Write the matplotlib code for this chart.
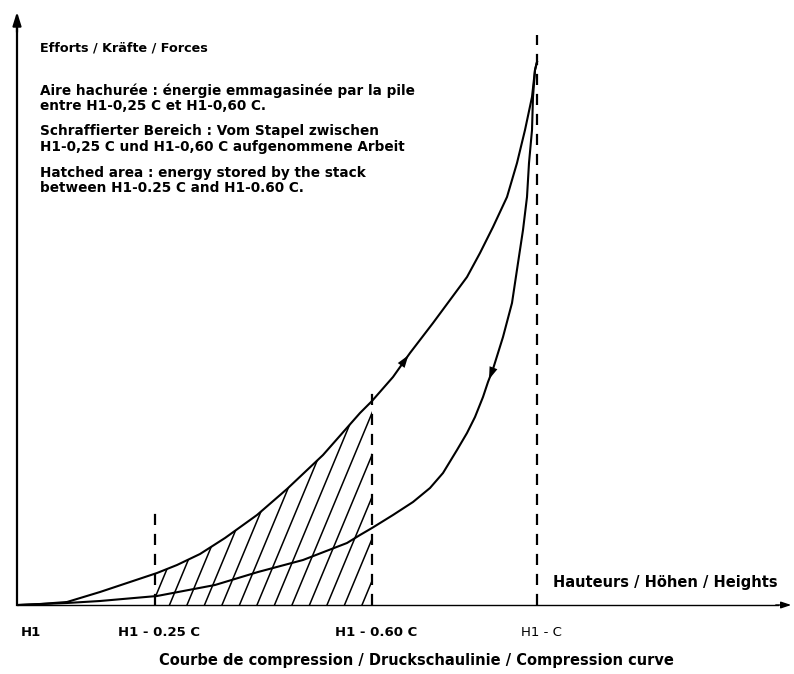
import numpy as np
import matplotlib
matplotlib.use("Agg")
import matplotlib.pyplot as plt
from matplotlib.patches import Polygon

plt.rcParams["font.family"] = ["DejaVu Sans"]

# chart units: x = compression travel, y = force (origin at H1, 0)
UP_X = [0, 22, 49, 82, 139, 159, 182, 207, 239, 269, 305, 342, 354, 375, 392, 415, 432, 449, 462,
        475, 489, 499, 507, 514, 517, 519]
UP_Y = [0, 1, 3, 13, 32, 40, 51, 67, 90, 116, 150, 192, 204, 228, 252, 282, 305, 328, 352,
        378, 408, 442, 475, 508, 535, 543]
DN_X = [0, 49, 82, 139, 197, 240, 285, 329, 342, 354, 375, 395, 412, 425, 439, 449, 457, 465,
        470, 475, 485, 494, 500, 505, 509, 511, 514, 515, 517, 519]
DN_Y = [0, 2, 4, 9, 20, 33, 45, 62, 70, 77, 90, 103, 117, 132, 155, 172, 188, 208,
        223, 236, 268, 302, 342, 375, 408, 442, 475, 508, 535, 543]

MARK_X = [0, 137, 354, 519]            # H1, H1-0.25C, H1-0.60C, H1-C
MARK_TOP = [None, 100, 220, 570]        # dashed guide heights
MARK_LABELS = ["H1", "H1 - 0.25 C", "H1 - 0.60 C", "H1 - C"]
MARK_BOLD = [True, True, True, False]

HATCH_FROM, HATCH_TO = 137, 354
HATCH_STEP = 17.5
HATCH_SLOPE = 2.4

NOTE_LINES = [
    "Aire hachurée : énergie emmagasinée par la pile",
    "entre H1-0,25 C et H1-0,60 C.",
    "Schraffierter Bereich : Vom Stapel zwischen",
    "H1-0,25 C und H1-0,60 C aufgenommene Arbeit",
    "Hatched area : energy stored by the stack",
    "between H1-0.25 C and H1-0.60 C.",
]
NOTE_Y = [514, 499, 474, 458, 432, 417]

fig = plt.figure(figsize=(7.94, 6.74), dpi=100)
ax = fig.add_axes([0, 0, 1, 1])
ax.set_xlim(-18, 776)
ax.set_ylim(-69, 605)
ax.axis("off")

# axes with arrows
ax.plot([-1, -1], [0, 580], color="black", lw=1.6)
ax.annotate("", xy=(-1, 596), xytext=(-1, 570),
            arrowprops=dict(arrowstyle="-|>,head_width=0.25,head_length=0.8", color="black", lw=1.6))
ax.plot([0, 760], [0, 0], color="black", lw=1.0)
ax.annotate("", xy=(776, 0), xytext=(755, 0),
            arrowprops=dict(arrowstyle="-|>,head_width=0.2,head_length=0.6", color="black", lw=1.0))

# hatched area between H1-0.25C and H1-0.60C under the loading curve
ux = np.array(UP_X, float)
uy = np.array(UP_Y, float)
sel = (ux > HATCH_FROM) & (ux <= HATCH_TO)
top_left = np.interp(HATCH_FROM, ux, uy)
poly = [(HATCH_FROM, 0), (HATCH_FROM, top_left)] + list(zip(ux[sel], uy[sel])) + [(HATCH_TO, 0)]
clip = Polygon(poly, closed=True, fc="none", ec="none")
ax.add_patch(clip)
for b in np.arange(HATCH_FROM - 3, HATCH_TO + 1, HATCH_STEP):
    ln, = ax.plot([b, b + 300 / HATCH_SLOPE], [0, 300], color="black", lw=1.1)
    ln.set_clip_path(clip)

# compression curves (loading up, unloading down)
ax.plot(UP_X, UP_Y, color="black", lw=1.5, solid_joinstyle="round")
ax.plot(DN_X, DN_Y, color="black", lw=1.5, solid_joinstyle="round")
ax.annotate("", xy=(UP_X[14], UP_Y[14]), xytext=(UP_X[13], UP_Y[13]),
            arrowprops=dict(arrowstyle="-|>,head_width=0.3,head_length=0.9", color="black", lw=0))
ax.annotate("", xy=(DN_X[18], DN_Y[18]), xytext=(DN_X[19], DN_Y[19]),
            arrowprops=dict(arrowstyle="-|>,head_width=0.3,head_length=0.9", color="black", lw=0))

# dashed guides + labels
for x, top, lab, bold in zip(MARK_X, MARK_TOP, MARK_LABELS, MARK_BOLD):
    if top is not None:
        ax.plot([x, x], [0, top], color="black", lw=1.6, ls=(0, (5, 4)))
    ax.text(x + (13 if lab == "H1" else 4), -27, lab, ha="center", va="center", fontsize=9.5,
            fontweight="bold" if bold else "normal")

ax.text(22, 557, "Efforts / Kräfte / Forces", fontsize=9.2, fontweight="bold", va="center")
for t, y in zip(NOTE_LINES, NOTE_Y):
    ax.text(22, y, t, fontsize=9.8, fontweight="bold", va="center")
ax.text(535, 22, "Hauteurs / Höhen / Heights", fontsize=10.5, fontweight="bold", va="center")
ax.text(398, -55, "Courbe de compression / Druckschaulinie / Compression curve",
        fontsize=10.5, fontweight="bold", ha="center", va="center")

fig.savefig("out.png", dpi=100)
